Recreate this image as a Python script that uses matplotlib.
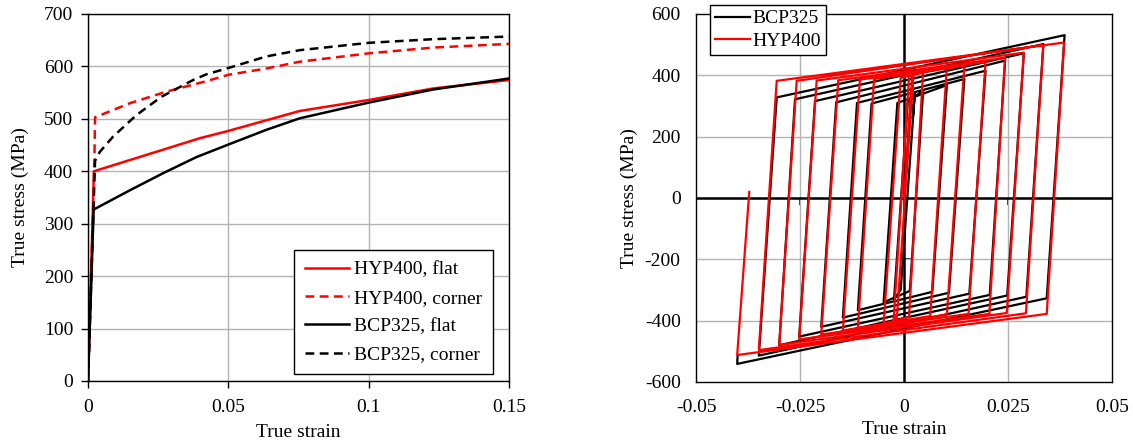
import numpy as np
import matplotlib.pyplot as plt

plt.rcParams['font.family'] = ['Liberation Serif', 'DejaVu Serif']
plt.rcParams['axes.unicode_minus'] = False
plt.rcParams['font.size'] = 14

# ---- monotonic tension curves (left) ----
hyp_flat_eps = [0, 0.0021, 0.0398, 0.05, 0.0754, 0.1, 0.123, 0.15]
hyp_flat_sig = [0, 400, 463, 477, 515, 536, 558, 574]
hyp_corner_eps = [0, 0.0022, 0.0025, 0.015, 0.028, 0.0422, 0.05, 0.0635, 0.0754, 0.1, 0.123, 0.15]
hyp_corner_sig = [0, 400, 503, 530, 552, 572, 584, 596, 609, 625, 636, 643]
bcp_flat_eps = [0, 0.002, 0.015, 0.027, 0.0386, 0.05, 0.0635, 0.0754, 0.1, 0.123, 0.15]
bcp_flat_sig = [0, 327, 364, 397, 427, 451, 479, 501, 531, 556, 577]
bcp_corner_eps = [0, 0.0025, 0.0042, 0.0089, 0.0172, 0.0261, 0.0374, 0.0422, 0.05, 0.0635,
                  0.0754, 0.1, 0.123, 0.15]
bcp_corner_sig = [0, 420, 437, 466, 507, 542, 574, 585, 597, 619, 631, 645, 652, 657]

# ---- cyclic loops (right): turning points read per cycle ----
# tpk = tensile peak, cyd = compressive yield corner, cpk = compressive peak, tyd = tensile yield corner
bcp_start_eps = [0, 0.0017, 0.0024, 0.0021]
bcp_start_sig = [0, 335, 340, 258]
bcp_tpk_eps = [0.0026, 0.0046, 0.0103, 0.0145, 0.0196, 0.0243, 0.0288, 0.0335, 0.0386]
bcp_tpk_sig = [342, 350, 368, 388, 415, 448, 472, 502, 531]
bcp_cyd_eps = [-0.0008, 0.0014, 0.0068, 0.0108, 0.0157, 0.0206, 0.0248, 0.0294, 0.0343]
bcp_cyd_sig = [-300, -303, -306, -309, -312, -316, -318, -322, -327]
bcp_cpk_eps = [-0.0024, -0.0049, -0.0111, -0.0147, -0.0199, -0.0252, -0.030, -0.0349, -0.0401]
bcp_cpk_sig = [-330, -340, -366, -390, -420, -452, -480, -514, -541]
bcp_tyd_eps = [0.0009, -0.0016, -0.0078, -0.0113, -0.0163, -0.0214, -0.0262, -0.0306]
bcp_tyd_sig = [315, 310, 308, 310, 312, 316, 322, 328]
bcp_end = (-0.0400, -515)

hyp_start_eps = [0, 0.0020, 0.0022, 0.0019]
hyp_start_sig = [0, 405, 412, 330]
hyp_tpk_eps = [0.0023, 0.0046, 0.0103, 0.0145, 0.0196, 0.0243, 0.0288, 0.0335, 0.0385]
hyp_tpk_sig = [414, 417, 426, 431, 444, 457, 474, 499, 507]
hyp_cyd_eps = [-0.0017, 0.0012, 0.0063, 0.0103, 0.0155, 0.0205, 0.0247, 0.0293, 0.0343]
hyp_cyd_sig = [-388, -388, -385, -380, -378, -378, -375, -376, -378]
hyp_cpk_eps = [-0.0025, -0.0049, -0.0111, -0.0147, -0.0199, -0.0252, -0.030, -0.0349, -0.0401]
hyp_cpk_sig = [-400, -410, -425, -432, -445, -461, -479, -496, -512]
hyp_tyd_eps = [0.0012, -0.0008, -0.0072, -0.0106, -0.0158, -0.0210, -0.0258, -0.0306]
hyp_tyd_sig = [395, 392, 388, 386, 384, 383, 382, 382]
hyp_end = (-0.0372, 20)


def loop_path(start_e, start_s, tpk_e, tpk_s, cyd_e, cyd_s, cpk_e, cpk_s, tyd_e, tyd_s, end):
    e = list(start_e)
    s = list(start_s)
    for i in range(len(tpk_e)):
        e += [tpk_e[i], cyd_e[i], cpk_e[i]]
        s += [tpk_s[i], cyd_s[i], cpk_s[i]]
        if i < len(tyd_e):
            e.append(tyd_e[i])
            s.append(tyd_s[i])
    e.append(end[0])
    s.append(end[1])
    return e, s


fig = plt.figure(figsize=(11.33, 4.43), dpi=100)
ax1 = fig.add_axes([0.0777, 0.1400, 0.3716, 0.8284])
ax2 = fig.add_axes([0.6143, 0.1377, 0.3672, 0.8307])

grid_c = '#b3b3b3'

# left panel
ax1.plot(hyp_flat_eps, hyp_flat_sig, color='red', lw=1.8, label='HYP400, flat')
ax1.plot(hyp_corner_eps, hyp_corner_sig, color='red', lw=1.8, ls=(0, (3.5, 2.2)), label='HYP400, corner')
ax1.plot(bcp_flat_eps, bcp_flat_sig, color='black', lw=1.8, label='BCP325, flat')
ax1.plot(bcp_corner_eps, bcp_corner_sig, color='black', lw=1.8, ls=(0, (3.5, 2.2)), label='BCP325, corner')
ax1.set_xlim(0, 0.15)
ax1.set_ylim(0, 700)
ax1.set_xticks([0, 0.05, 0.1, 0.15])
ax1.set_xticklabels(['0', '0.05', '0.1', '0.15'])
ax1.set_yticks(range(0, 701, 100))
ax1.grid(color=grid_c, lw=1)
ax1.set_axisbelow(True)
ax1.tick_params(direction='out', length=5, width=1, color='black')
ax1.tick_params(axis='x', pad=7.8)
ax1.tick_params(axis='y', pad=5.7)
for sp in ax1.spines.values():
    sp.set_color('black')
    sp.set_linewidth(1)
ax1.set_xlabel('True strain', labelpad=6)
ax1.set_ylabel('True stress (MPa)', labelpad=10.5)
leg1 = ax1.legend(loc='lower right', bbox_to_anchor=(0.962, 0.019), borderaxespad=0,
                  fancybox=False, edgecolor='black', framealpha=1, handlelength=2.3,
                  handletextpad=0.25, labelspacing=0.55, borderpad=0.55)
leg1.get_frame().set_linewidth(1)

# right panel
be, bs = loop_path(bcp_start_eps, bcp_start_sig, bcp_tpk_eps, bcp_tpk_sig, bcp_cyd_eps, bcp_cyd_sig,
                   bcp_cpk_eps, bcp_cpk_sig, bcp_tyd_eps, bcp_tyd_sig, bcp_end)
he, hs = loop_path(hyp_start_eps, hyp_start_sig, hyp_tpk_eps, hyp_tpk_sig, hyp_cyd_eps, hyp_cyd_sig,
                   hyp_cpk_eps, hyp_cpk_sig, hyp_tyd_eps, hyp_tyd_sig, hyp_end)
ax2.plot(be, bs, color='black', lw=1.6, label='BCP325', zorder=3)
ax2.plot(he, hs, color='red', lw=1.6, label='HYP400', zorder=4)
ax2.set_xlim(-0.05, 0.05)
ax2.set_ylim(-600, 600)
ax2.set_xticks([-0.05, -0.025, 0, 0.025, 0.05])
ax2.set_xticklabels(['-0.05', '-0.025', '0', '0.025', '0.05'])
ax2.set_yticks(range(-600, 601, 200))
ax2.set_yticklabels(['-600', '-400', '-200', '0', '200', '400', '600'])
ax2.tick_params(length=0)
ax2.tick_params(axis='x', pad=12)
ax2.tick_params(axis='y', pad=11)
for v in [-0.025, 0.025]:
    ax2.axvline(v, color=grid_c, lw=1, zorder=1)
for h in [-400, -200, 200, 400]:
    ax2.axhline(h, color=grid_c, lw=1, zorder=1)
# zero axes, drawn thicker like the crossing axes of the original
ax2.axvline(0, color='black', lw=1.8, zorder=2)
ax2.axhline(0, color='black', lw=1.8, zorder=2)
for sp in ax2.spines.values():
    sp.set_color('black')
    sp.set_linewidth(1)
# tick marks on the zero axes (left of the vertical, below the horizontal)
sy = ax2.secondary_yaxis(0.5)
sy.set_yticks([-400, -200, 200, 400])
sy.set_yticklabels([])
sy.yaxis.set_tick_params(which='major', direction='out', length=5, width=1.2, color='black')
sx = ax2.secondary_xaxis(0.5)
sx.set_xticks([-0.025, 0.025])
sx.set_xticklabels([])
sx.xaxis.set_tick_params(which='major', direction='in', length=5, width=1.2, color='black')
ax2.set_xlabel('True strain', labelpad=4)
ax2.set_ylabel('True stress (MPa)', labelpad=5)
leg2 = ax2.legend(loc='upper left', bbox_to_anchor=(0.0337, 1.0245), borderaxespad=0,
                  fancybox=False, edgecolor='black', framealpha=1, handlelength=1.8,
                  handletextpad=0.15, labelspacing=0.25, borderpad=0.25)
leg2.get_frame().set_linewidth(1)
leg2.set_zorder(10)

fig.savefig('out.png', dpi=100)
